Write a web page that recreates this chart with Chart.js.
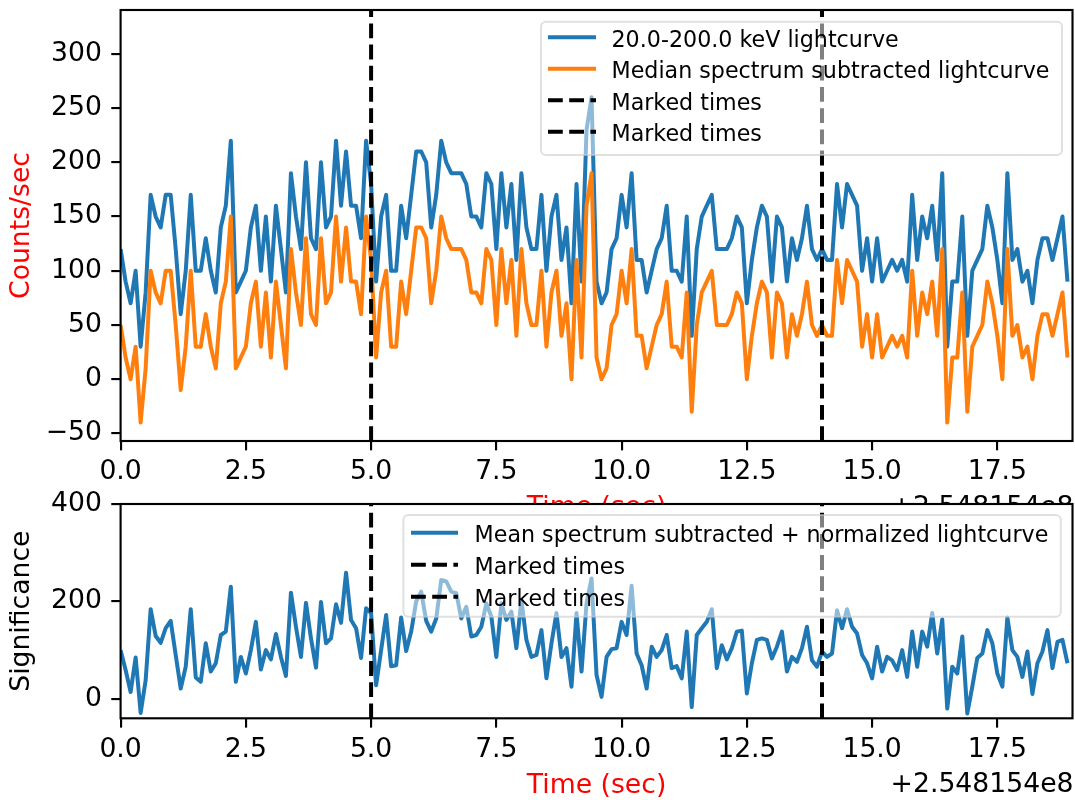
<!DOCTYPE html>
<html>
<head>
<meta charset="utf-8">
<script src="https://cdn.jsdelivr.net/npm/chart.js@4.4.0/dist/chart.umd.min.js"></script>
<style>
  html, body { margin: 0; padding: 0; background: #fff; overflow: hidden; }
  #wrap { position: relative; width: 1075px; height: 800px; }
  canvas { position: absolute; left: 0; top: 0; }
</style>
</head>
<body>
<div id="wrap">
  <canvas id="topChart" width="1075" height="530"></canvas>
  <canvas id="bottomChart" width="1075" height="800"></canvas>
</div>
<script>
// time bins are 0.1 s wide, starting at 0 (offset +2.548154e8)
const BIN = 0.1;
const OFFSET_LABEL = '+2.548154e8';
const markedTimes = [5.0, 14.0];

// tick values
const xTicks = [0, 2.5, 5, 7.5, 10, 12.5, 15, 17.5];
const countTicks = [-50, 0, 50, 100, 150, 200, 250, 300];
const sigTicks = [0, 200, 400];

// 20.0-200.0 keV lightcurve (counts/sec)
const rawCounts = [
  120, 90, 70, 100, 30, 80, 170, 150, 140, 170,
  170, 120, 60, 100, 170, 100, 100, 130, 100, 80,
  140, 160, 220, 80, 90, 100, 140, 160, 100, 150,
  90, 160, 120, 80, 190, 150, 120, 200, 130, 120,
  200, 140, 150, 220, 160, 210, 160, 160, 130, 220,
  180, 90, 150, 170, 100, 100, 160, 130, 170, 210,
  210, 200, 140, 170, 220, 200, 190, 190, 190, 180,
  150, 150, 140, 190, 180, 120, 190, 140, 180, 110,
  190, 140, 120, 120, 170, 100, 150, 170, 110, 140,
  70, 180, 90, 230, 260, 90, 70, 80, 120, 130,
  170, 140, 190, 110, 110, 80, 100, 120, 130, 160,
  100, 100, 90, 150, 40, 120, 150, 160, 170, 120,
  120, 120, 130, 150, 140, 70, 110, 140, 160, 150,
  90, 150, 140, 90, 130, 110, 130, 160, 120, 110,
  120, 110, 110, 180, 140, 180, 170, 160, 100, 130,
  90, 130, 90, 100, 110, 100, 110, 90, 170, 110,
  150, 130, 160, 110, 190, 30, 90, 90, 150, 40,
  100, 110, 120, 160, 140, 110, 70, 190, 110, 120,
  90, 100, 70, 110, 130, 130, 110, 130, 150, 90
];

// Median spectrum subtracted lightcurve (counts/sec)
const medianSubCounts = [
  50, 20, 0, 30, -40, 10, 100, 80, 70, 100,
  100, 50, -10, 30, 100, 30, 30, 60, 30, 10,
  70, 90, 150, 10, 20, 30, 70, 90, 30, 80,
  20, 90, 50, 10, 120, 80, 50, 130, 60, 50,
  130, 70, 80, 150, 90, 140, 90, 90, 60, 150,
  110, 20, 80, 100, 30, 30, 90, 60, 100, 140,
  140, 130, 70, 100, 150, 130, 120, 120, 120, 110,
  80, 80, 70, 120, 110, 50, 120, 70, 110, 40,
  120, 70, 50, 50, 100, 30, 80, 100, 40, 70,
  0, 110, 20, 160, 190, 20, 0, 10, 50, 60,
  100, 70, 120, 40, 40, 10, 30, 50, 60, 90,
  30, 30, 20, 80, -30, 50, 80, 90, 100, 50,
  50, 50, 60, 80, 70, 0, 40, 70, 90, 80,
  20, 80, 70, 20, 60, 40, 60, 90, 50, 40,
  50, 40, 40, 110, 70, 110, 100, 90, 30, 60,
  20, 60, 20, 30, 40, 30, 40, 20, 100, 40,
  80, 60, 90, 40, 120, -40, 20, 20, 80, -30,
  30, 40, 50, 90, 70, 40, 0, 120, 40, 50,
  20, 30, 0, 40, 60, 60, 40, 60, 80, 20
];

// Mean spectrum subtracted + normalized lightcurve (significance)
const significance = [
  100, 59, 14, 85, -29, 38, 184, 129, 115, 145,
  160, 90, 21, 66, 184, 44, 35, 114, 56, 73,
  131, 138, 230, 35, 86, 52, 100, 158, 60, 100,
  81, 133, 86, 47, 218, 148, 86, 197, 124, 64,
  199, 114, 124, 194, 156, 259, 162, 145, 84, 186,
  176, 28, 100, 172, 67, 69, 167, 98, 138, 200,
  220, 160, 138, 165, 244, 241, 220, 217, 165, 189,
  128, 131, 148, 196, 169, 86, 196, 162, 179, 104,
  203, 121, 86, 90, 141, 42, 114, 176, 86, 104,
  25, 176, 56, 196, 247, 49, 4, 86, 102, 104,
  158, 131, 232, 93, 69, 21, 107, 86, 100, 131,
  63, 67, 42, 138, -17, 131, 145, 158, 184, 63,
  110, 81, 104, 138, 140, 11, 73, 121, 124, 121,
  83, 107, 138, 56, 86, 76, 104, 148, 79, 66,
  97, 86, 93, 182, 145, 184, 148, 134, 90, 73,
  42, 107, 56, 86, 79, 59, 100, 45, 138, 66,
  138, 107, 176, 93, 163, -20, 66, 52, 128, -30,
  25, 84, 93, 141, 114, 52, 25, 167, 100, 86,
  45, 97, 10, 73, 97, 141, 63, 117, 121, 73
];

// axis ranges
const X_RANGE = [0, 19.0];
const TOP_Y_RANGE = [-57, 340.5];
const BOTTOM_Y_RANGE = [-40, 400];

const FONT = 'DejaVu Sans';
const BLUE = '#1f77b4';
const ORANGE = '#ff7f0e';
const LW = 4;
const DASH = [14.8, 6.4];
const TICK_LEN = 9.33;
const SPINE_W = 2.13;

function toPoints(values) {
  return values.map((v, i) => ({ x: +(i * BIN).toFixed(1), y: v }));
}

function markerDataset(t, range, order) {
  return {
    label: 'Marked times',
    data: [{ x: t, y: range[0] }, { x: t, y: range[1] }],
    borderColor: '#000',
    borderWidth: LW,
    borderDash: DASH,
    pointRadius: 0,
    order: order
  };
}

function minusFmt(v) {
  return v < 0 ? '\u2212' + Math.abs(v) : String(v);
}

function roundRect(ctx, x, y, w, h, r) {
  ctx.beginPath();
  ctx.moveTo(x + r, y);
  ctx.lineTo(x + w - r, y);
  ctx.arcTo(x + w, y, x + w, y + r, r);
  ctx.lineTo(x + w, y + h - r);
  ctx.arcTo(x + w, y + h, x + w - r, y + h, r);
  ctx.lineTo(x + r, y + h);
  ctx.arcTo(x, y + h, x, y + h - r, r);
  ctx.lineTo(x, y + r);
  ctx.arcTo(x, y, x + r, y, r);
  ctx.closePath();
}

// white axes background, frame, legend box and offset text
const panelPlugin = {
  id: 'panel',
  beforeDraw(chart) {
    const { ctx, chartArea: a } = chart;
    ctx.save();
    ctx.fillStyle = '#fff';
    ctx.fillRect(a.left, a.top, a.right - a.left, a.bottom - a.top);
    ctx.restore();
  },
  afterDraw(chart, args, opts) {
    const { ctx, chartArea: a } = chart;
    ctx.save();
    // spines
    ctx.strokeStyle = '#000';
    ctx.lineWidth = SPINE_W;
    ctx.strokeRect(a.left, a.top, a.right - a.left, a.bottom - a.top);

    // offset text under the x axis
    ctx.fillStyle = '#000';
    ctx.font = '26.67px "' + FONT + '"';
    ctx.textAlign = 'right';
    ctx.textBaseline = 'alphabetic';
    ctx.fillText(OFFSET_LABEL, a.right + 1, a.bottom + opts.offsetY);

    // legend
    const L = opts.legend;
    roundRect(ctx, L.x, L.y, L.w, L.h, 5);
    ctx.fillStyle = 'rgba(255,255,255,0.5)';
    ctx.fill();
    ctx.strokeStyle = 'rgba(204,204,204,0.6)';
    ctx.lineWidth = 2;
    ctx.stroke();

    ctx.font = '22.2px "' + FONT + '"';
    ctx.textAlign = 'left';
    chart.data.datasets.forEach((ds, i) => {
      const y = L.rowY + i * L.rowStep;
      ctx.beginPath();
      ctx.setLineDash(ds.borderDash || []);
      ctx.strokeStyle = ds.borderColor;
      ctx.lineWidth = LW;
      ctx.moveTo(L.lineX0, y);
      ctx.lineTo(L.lineX1, y);
      ctx.stroke();
      ctx.setLineDash([]);
      ctx.fillStyle = '#000';
      ctx.fillText(ds.label, L.textX, y + 9.5);
    });
    ctx.restore();
  }
};

const tickGrid = {
  drawOnChartArea: false, drawTicks: true, tickLength: TICK_LEN,
  tickWidth: SPINE_W, tickColor: '#000', color: '#000', lineWidth: SPINE_W
};

function noPad(scale) {
  scale.paddingTop = 0;
  scale.paddingBottom = 0;
  scale.paddingLeft = 0;
  scale.paddingRight = 0;
}

function xScale(titlePad, lineHeight, height) {
  return {
    type: 'linear',
    min: X_RANGE[0],
    max: X_RANGE[1],
    border: { display: false },
    grid: tickGrid,
    afterBuildTicks(scale) { scale.ticks = xTicks.map(v => ({ value: v })); },
    ticks: {
      autoSkip: false, maxRotation: 0, minRotation: 0,
      padding: 6, color: '#000', font: { family: FONT, size: 26.67 },
      callback: v => v.toFixed(1)
    },
    title: {
      display: true, text: 'Time (sec)', color: '#ff0000',
      font: { family: FONT, size: 26.67, lineHeight: lineHeight },
      padding: { top: 0, bottom: titlePad }
    },
    afterFit(scale) { scale.height = height; noPad(scale); }
  };
}

function yScale(range, tickValues, title, color) {
  return {
    type: 'linear',
    min: range[0],
    max: range[1],
    border: { display: false },
    grid: tickGrid,
    afterBuildTicks(scale) { scale.ticks = tickValues.map(v => ({ value: v })); },
    ticks: {
      autoSkip: false, padding: 9.33, color: '#000',
      font: { family: FONT, size: 26.67 }, callback: minusFmt
    },
    title: {
      display: true, text: title, color: color,
      font: { family: FONT, size: 26.67, lineHeight: 1.2 },
      padding: { top: 6.5, bottom: 0 }
    },
    afterFit(scale) { scale.width = 120.6; noPad(scale); }
  };
}

// ---- top panel: counts ----
new Chart(document.getElementById('topChart'), {
  type: 'line',
  data: {
    datasets: [
      { label: '20.0-200.0 keV lightcurve', data: toPoints(rawCounts),
        borderColor: BLUE, borderWidth: LW, pointRadius: 0, tension: 0,
        borderJoinStyle: 'round', order: 3 },
      { label: 'Median spectrum subtracted lightcurve', data: toPoints(medianSubCounts),
        borderColor: ORANGE, borderWidth: LW, pointRadius: 0, tension: 0,
        borderJoinStyle: 'round', order: 2 },
      markerDataset(markedTimes[0], TOP_Y_RANGE, 1),
      markerDataset(markedTimes[1], TOP_Y_RANGE, 0)
    ]
  },
  options: {
    responsive: false,
    animation: false,
    layout: { padding: { left: 0, top: 10, right: 2.5, bottom: 0 } },
    plugins: {
      legend: { display: false },
      tooltip: { enabled: false },
      panel: {
        offsetY: 73.7,
        legend: { x: 541, y: 21.7, w: 521, h: 133.3, rowY: 37.3, rowStep: 31.47,
                  lineX0: 548, lineX1: 596, textX: 611.5 }
      }
    },
    scales: {
      x: xScale(5.5, 1.2, 89),
      y: yScale(TOP_Y_RANGE, countTicks, 'Counts/sec', '#ff0000')
    }
  },
  plugins: [panelPlugin]
});

// ---- bottom panel: significance ----
new Chart(document.getElementById('bottomChart'), {
  type: 'line',
  data: {
    datasets: [
      { label: 'Mean spectrum subtracted + normalized lightcurve', data: toPoints(significance),
        borderColor: BLUE, borderWidth: LW, pointRadius: 0, tension: 0,
        borderJoinStyle: 'round', order: 2 },
      markerDataset(markedTimes[0], BOTTOM_Y_RANGE, 1),
      markerDataset(markedTimes[1], BOTTOM_Y_RANGE, 0)
    ]
  },
  options: {
    responsive: false,
    animation: false,
    layout: { padding: { left: 0, top: 504, right: 2.5, bottom: 0 } },
    plugins: {
      legend: { display: false },
      tooltip: { enabled: false },
      panel: {
        offsetY: 73.7,
        legend: { x: 403.4, y: 515, w: 657.4, h: 101.7, rowY: 532.7, rowStep: 32,
                  lineX0: 411, lineX1: 458, textX: 474.6 }
      }
    },
    scales: {
      x: xScale(0, 1.065, 81.7),
      y: yScale(BOTTOM_Y_RANGE, sigTicks, 'Significance', '#000')
    }
  },
  plugins: [panelPlugin]
});
</script>
</body>
</html>
